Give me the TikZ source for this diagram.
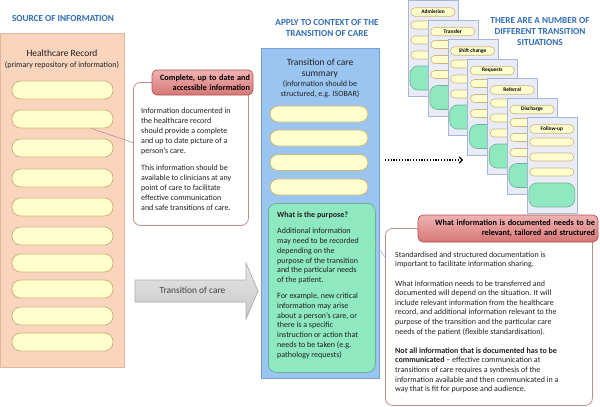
\documentclass[tikz,border=0pt]{standalone}
\usepackage{fontspec}
\setmainfont{Carlito}
\usepackage{xcolor}
\usepackage{tikz}
\usetikzlibrary{arrows.meta}

\definecolor{titleblue}{RGB}{47,108,181}
\definecolor{recfill}{RGB}{250,213,190}
\definecolor{recdraw}{RGB}{226,184,160}
\definecolor{pillfill}{RGB}{255,255,206}
\definecolor{pilldraw}{RGB}{206,180,122}
\definecolor{headtop}{RGB}{240,178,178}
\definecolor{headbot}{RGB}{214,118,118}
\definecolor{headdraw}{RGB}{178,82,82}
\definecolor{notedraw}{RGB}{188,142,142}
\definecolor{sumfill}{RGB}{155,197,241}
\definecolor{sumdraw}{RGB}{118,160,214}
\definecolor{purfill}{RGB}{142,232,192}
\definecolor{purdraw}{RGB}{112,176,148}
\definecolor{cardfill}{RGB}{233,236,246}
\definecolor{carddraw}{RGB}{168,182,214}
\definecolor{arrowtop}{RGB}{230,230,230}
\definecolor{arrowbot}{RGB}{200,200,200}
\definecolor{arrowdraw}{RGB}{172,172,172}
\definecolor{bodytext}{RGB}{32,32,32}
\definecolor{linkline}{RGB}{170,180,200}

\tikzset{
  heading/.style={
    font=\fontsize{9.2}{11}\selectfont\bfseries,
    text=titleblue,
    align=center,
    inner sep=0pt
  },
  panel/.style={
    rectangle,
    anchor=north west,
    inner sep=0pt,
    line width=0.8pt
  },
  recpill/.style={
    draw=pilldraw,
    fill=pillfill,
    rectangle,
    rounded corners=8.5pt,
    minimum width=101pt,
    minimum height=18pt,
    inner sep=0pt,
    line width=0.8pt
  },
  sumpill/.style={
    recpill,
    rounded corners=8pt,
    minimum width=98pt,
    minimum height=16pt
  },
  headbox/.style={
    draw=headdraw,
    top color=headtop,
    bottom color=headbot,
    rectangle,
    rounded corners=5pt,
    align=right,
    inner xsep=3pt,
    inner ysep=0pt,
    line width=0.7pt,
    font=\fontsize{8.2}{10}\selectfont\bfseries,
    text=black
  },
  notebox/.style={
    panel,
    draw=notedraw,
    fill=white,
    rounded corners=7pt
  },
  notetext/.style={
    anchor=north west,
    align=left,
    inner sep=0pt,
    text=bodytext,
    font=\fontsize{8}{10}\selectfont
  },
  cardbox/.style={
    panel,
    draw=carddraw,
    fill=cardfill,
    minimum width=50pt,
    minimum height=96pt,
    line width=0.6pt
  },
  cardpill/.style={
    draw=pilldraw,
    fill=pillfill,
    rectangle,
    rounded corners=4pt,
    minimum width=44pt,
    minimum height=8pt,
    inner sep=0pt,
    line width=0.6pt
  },
  cardtag/.style={
    cardpill,
    minimum height=8.5pt,
    font=\fontsize{5.4}{6}\selectfont\bfseries
  },
  cardblob/.style={
    draw=purdraw,
    fill=purfill,
    rectangle,
    rounded corners=8pt,
    minimum width=46pt,
    minimum height=24pt,
    line width=0.6pt
  },
  link/.style={
    draw=notedraw,
    line width=0.6pt
  },
  dotarrow/.style={
    line width=1.3pt,
    dash pattern=on 1.2pt off 1.6pt,
    -{Straight Barb[length=3pt,width=6pt,line width=1.2pt]}
  }
}

\begin{document}
\begin{tikzpicture}[x=1pt, y=-1pt]
  \useasboundingbox (0,0) rectangle (600,407);

  % source of information
  \node[heading] (srchead) at (63,19) {SOURCE OF INFORMATION};
  \node[panel, draw=recdraw, fill=recfill, minimum width=124pt, minimum height=334pt] (record) at (0,33) {};
  \node[font=\fontsize{9.5}{11}\selectfont, text=bodytext] (rectitle) at (62,53) {Healthcare Record};
  \node[font=\fontsize{8}{10}\selectfont, text=bodytext] (recnote) at (62,65) {(primary repository of information)};
  \node[recpill] (rec1) at (62.5,90) {};
  \node[recpill] (rec2) at (62.5,119) {};
  \node[recpill] (rec3) at (62.5,148) {};
  \node[recpill] (rec4) at (62.5,178) {};
  \node[recpill] (rec5) at (62.5,207) {};
  \node[recpill] (rec6) at (62.5,236) {};
  \node[recpill] (rec7) at (62.5,263) {};
  \node[recpill] (rec8) at (62.5,289) {};
  \node[recpill] (rec9) at (62.5,316) {};
  \node[recpill] (rec10) at (62.5,342) {};

  % complete and accessible information
  \node[notebox, minimum width=115pt, minimum height=143pt] (infobox) at (133,82) {};
  \draw[link] (rec2.-18) -- (infobox.169);
  \node[notetext] (infotext) at (141,107.5) {Information documented in\\
    the healthcare record\\
    should provide a complete\\
    and up to date picture of a\\
    person's care.\\[7pt]
    This information should be\\
    available to clinicians at any\\
    point of care to facilitate\\
    effective communication\\
    and safe transitions of care.};
  \node[headbox, text width=95pt, minimum width=101pt, minimum height=25pt] (infohead) at (202.5,82.5) {Complete, up to date and\\accessible information};

  % transition of care arrow
  \draw[arrowdraw, top color=arrowtop, bottom color=arrowbot, line width=0.7pt]
    (135,280) -- (246,280) -- (246,263) -- (258,291) -- (246,319) -- (246,302) -- (135,302) -- cycle;
  \node[font=\fontsize{9.4}{11}\selectfont, text=black!75] (toclabel) at (192.5,290.5) {Transition of care};

  % transition of care summary
  \node[heading] (apphead) at (327,28.5) {APPLY TO CONTEXT OF THE\\TRANSITION OF CARE};
  \node[panel, draw=sumdraw, fill=sumfill, minimum width=118pt, minimum height=330pt] (summary) at (261,48) {};
  \node[font=\fontsize{9.5}{11}\selectfont, text=bodytext, align=center] (sumtitle) at (320,68.5) {Transition of care\\summary};
  \node[font=\fontsize{8}{10}\selectfont, text=bodytext, align=center] (sumnote) at (320,89) {(information should be\\structured, e.g. ISOBAR)};
  \node[sumpill] (sum1) at (319,114) {};
  \node[sumpill] (sum2) at (319,138) {};
  \node[sumpill] (sum3) at (319,162.5) {};
  \node[sumpill] (sum4) at (319,187) {};
  \node[panel, draw=purdraw, fill=purfill, rounded corners=8pt, minimum width=107pt, minimum height=169pt] (purpose) at (268,203) {};
  \node[notetext, font=\fontsize{8}{9.8}\selectfont] (purtext) at (277,212) {\textbf{What is the purpose?}\\[6pt]
    Additional information\\
    may need to be recorded\\
    depending on the\\
    purpose of the transition\\
    and the particular needs\\
    of the patient.\\[6pt]
    For example, new critical\\
    information may arise\\
    about a person's care, or\\
    there is a specific\\
    instruction or action that\\
    needs to be taken (e.g.\\
    pathology requests)};

  % transition situations
  \node[heading] (sithead) at (540,31.5) {THERE ARE A NUMBER OF\\DIFFERENT TRANSITION\\SITUATIONS};
  \coordinate (dotfrom) at (385,160);
  \coordinate (dotto) at (463,160);
  \draw[dotarrow] (dotfrom) -- (dotto);

  \node[cardbox] (card1) at (408,0) {};
  \node[cardtag] (tag1) at (433,12) {Admission};
  \node[cardpill] (c1a) at (433,25) {};
  \node[cardpill] (c1b) at (433,40) {};
  \node[cardpill] (c1c) at (433,55) {};
  \node[cardblob] (c1d) at (433,78) {};

  \node[cardbox] (card2) at (427.8,19.5) {};
  \node[cardtag] (tag2) at (452.8,31.5) {Transfer};
  \node[cardpill] (c2a) at (452.8,44.5) {};
  \node[cardpill] (c2b) at (452.8,59.5) {};
  \node[cardpill] (c2c) at (452.8,74.5) {};
  \node[cardblob] (c2d) at (452.8,97.5) {};

  \node[cardbox] (card3) at (447.6,39) {};
  \node[cardtag] (tag3) at (472.6,51) {Shift change};
  \node[cardpill] (c3a) at (472.6,64) {};
  \node[cardpill] (c3b) at (472.6,79) {};
  \node[cardpill] (c3c) at (472.6,94) {};
  \node[cardblob] (c3d) at (472.6,117) {};

  \node[cardbox] (card4) at (467.4,58.5) {};
  \node[cardtag] (tag4) at (492.4,70.5) {Requests};
  \node[cardpill] (c4a) at (492.4,83.5) {};
  \node[cardpill] (c4b) at (492.4,98.5) {};
  \node[cardpill] (c4c) at (492.4,113.5) {};
  \node[cardblob] (c4d) at (492.4,136.5) {};

  \node[cardbox] (card5) at (487.2,78) {};
  \node[cardtag] (tag5) at (512.2,90) {Referral};
  \node[cardpill] (c5a) at (512.2,103) {};
  \node[cardpill] (c5b) at (512.2,118) {};
  \node[cardpill] (c5c) at (512.2,133) {};
  \node[cardblob] (c5d) at (512.2,156) {};

  \node[cardbox] (card6) at (507,97.5) {};
  \node[cardtag] (tag6) at (532,109.5) {Discharge};
  \node[cardpill] (c6a) at (532,122.5) {};
  \node[cardpill] (c6b) at (532,137.5) {};
  \node[cardpill] (c6c) at (532,152.5) {};
  \node[cardblob] (c6d) at (532,175.5) {};

  \node[cardbox] (card7) at (526.8,117) {};
  \node[cardtag] (tag7) at (551.8,129) {Follow-up};
  \node[cardpill] (c7a) at (551.8,142) {};
  \node[cardpill] (c7b) at (551.8,157) {};
  \node[cardpill] (c7c) at (551.8,172) {};
  \node[cardblob] (c7d) at (551.8,195) {};

  % relevant, tailored and structured
  \node[notebox, minimum width=207pt, minimum height=177pt] (docbox) at (385,228) {};
  \draw[link, draw=linkline] (purpose.39) -- (docbox.150);
  \node[notetext, font=\fontsize{8}{9.6}\selectfont] (doctext) at (395,251.5) {Standardised and structured documentation is\\
    important to facilitate information sharing.\\[9.6pt]
    What information needs to be transferred and\\
    documented will depend on the situation. It will\\
    include relevant information from the healthcare\\
    record, and additional information relevant to the\\
    purpose of the transition and the particular care\\
    needs of the patient (flexible standardisation).\\[9.6pt]
    \textbf{Not all information that is documented has to be}\\
    \textbf{communicated} -- effective communication at\\
    transitions of care requires a synthesis of the\\
    information available and then communicated in a\\
    way that is fit for purpose and audience.};
  \node[headbox, text width=174pt, minimum width=180pt, minimum height=27pt] (dochead) at (508,228.5) {What information is documented needs to be\\relevant, tailored and structured};
\end{tikzpicture}
\end{document}
